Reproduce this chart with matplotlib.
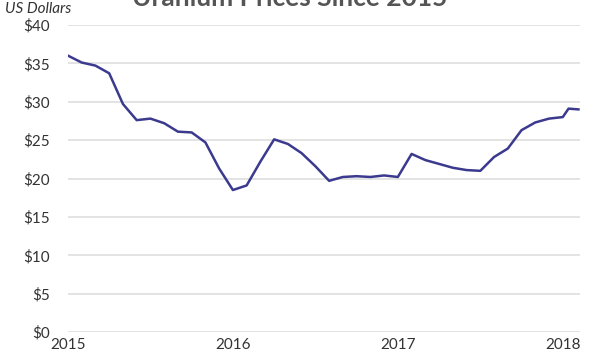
import matplotlib.pyplot as plt

# monthly uranium spot price, Jan 2015 .. Jan 2018, plus two early-2018 readings
months = list(range(37))
prices = [36.0, 35.1, 34.7, 33.7, 29.7, 27.6, 27.8, 27.2, 26.1, 26.0, 24.7, 21.3,
          18.5, 19.1, 22.2, 25.1, 24.5, 23.3, 21.6, 19.7, 20.2, 20.3, 20.2, 20.4,
          20.2, 23.2, 22.4, 21.9, 21.4, 21.1, 21.0, 22.8, 23.9, 26.3, 27.3, 27.8,
          28.0]
extra_x = [2018.035, 2018.095]
extra_y = [29.1, 29.0]

years = [2015 + m / 12 for m in months] + extra_x
values = prices + extra_y

year_ticks = [2015, 2016, 2017, 2018]
dollar_ticks = [0, 5, 10, 15, 20, 25, 30, 35, 40]

plt.rcParams['font.family'] = ['Lato', 'DejaVu Sans']

fig = plt.figure(figsize=(5.91, 3.61), dpi=100)
ax = fig.add_axes([0.115, 0.08, 0.866, 0.851])

ax.plot(years, values, color='#3b3a8e', linewidth=1.8, zorder=3)

ax.set_xlim(2015, 2018.103)
ax.set_ylim(0, 40)
ax.set_xticks(year_ticks)
ax.set_xticklabels([str(y) for y in year_ticks])
ax.set_yticks(dollar_ticks)
ax.set_yticklabels(['$%d' % d for d in dollar_ticks])
ax.grid(axis='y', color='#e3e3e3', linewidth=1.4)
ax.set_axisbelow(True)
for s in ax.spines.values():
    s.set_visible(False)
ax.tick_params(axis='both', length=0, labelsize=11, colors='#333333')
ax.tick_params(axis='y', pad=13)
ax.tick_params(axis='x', pad=4)

fig.text(0.008, 0.975, 'US Dollars', fontsize=11, style='italic', color='#333333',
         ha='left', va='center')
fig.text(0.49, 1.005, 'Uranium Prices Since 2015', fontsize=19, fontweight='bold',
         color='#555555', ha='center', va='center')

fig.savefig('out.png', dpi=100)
